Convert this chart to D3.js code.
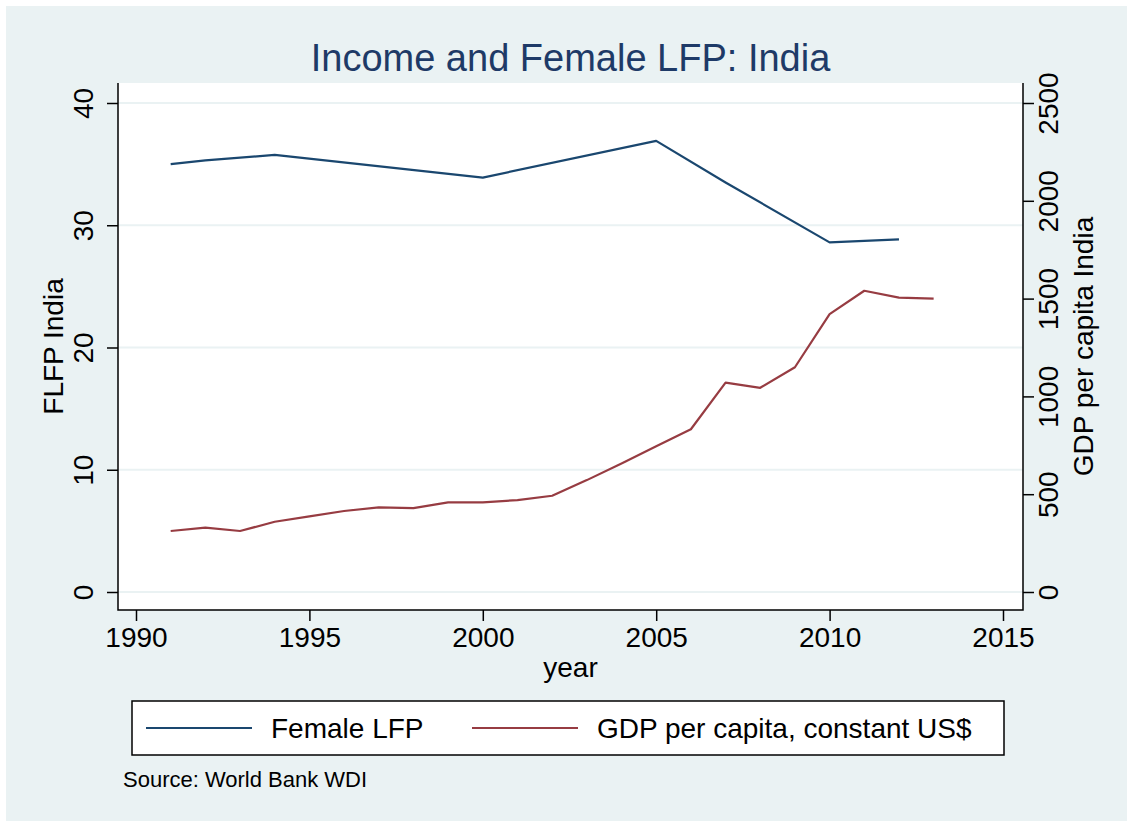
<!DOCTYPE html>
<html>
<head>
<meta charset="utf-8">
<script src="https://cdn.jsdelivr.net/npm/d3@7"></script>
<style>
  body { margin: 0; background: #fff; }
  svg { display: block; font-family: "Liberation Sans", Arial, Helvetica, sans-serif; }
</style>
</head>
<body>
<div id="chart"></div>
<script>
// data
var flfpYears = [1991, 1992, 1994, 2000, 2005, 2007, 2010, 2012];
var flfpValues = [35.0, 35.3, 35.75, 33.9, 36.9, 33.5, 28.6, 28.85];

var gdpYears = [1991, 1992, 1993, 1994, 1995, 1996, 1997, 1998, 1999, 2000, 2001, 2002,
                2003, 2004, 2005, 2006, 2007, 2008, 2009, 2010, 2011, 2012, 2013];
var gdpValues = [312, 329, 312, 359, 387, 414, 433, 429, 458, 458, 470, 492,
                 572, 657, 745, 832, 1070, 1044, 1149, 1421, 1540, 1505, 1500];

var xTicks = [1990, 1995, 2000, 2005, 2010, 2015];
var leftTicks = [0, 10, 20, 30, 40];
var rightTicks = [0, 500, 1000, 1500, 2000, 2500];

var legendLabels = ["Female LFP", "GDP per capita, constant US$"];

var W = 1127, H = 821;
var plot = { left: 118, right: 1023, top: 83, bottom: 610 };
var navy = "#1a476f", maroon = "#973c42", bg = "#eaf2f3";

var svg = d3.select("#chart").append("svg")
    .attr("width", W)
    .attr("height", H);

svg.append("rect")
    .attr("x", 6).attr("y", 6)
    .attr("width", W - 6).attr("height", H - 6)
    .attr("fill", bg);

svg.append("rect")
    .attr("x", plot.left).attr("y", plot.top)
    .attr("width", plot.right - plot.left)
    .attr("height", plot.bottom - plot.top)
    .attr("fill", "#fff");

var x = d3.scaleLinear().domain([1990, 2015]).range([136, 1003]);
var yL = d3.scaleLinear().domain([0, 40]).range([592, 103]);
var yR = d3.scaleLinear().domain([0, 2500]).range([592, 103]);

// gridlines
svg.append("g")
    .selectAll("line")
    .data(leftTicks)
    .enter().append("line")
    .attr("x1", plot.left)
    .attr("x2", plot.right)
    .attr("y1", function(d) { return yL(d); })
    .attr("y2", function(d) { return yL(d); })
    .attr("stroke", bg)
    .attr("stroke-width", 2);

// title
svg.append("text")
    .attr("x", (plot.left + plot.right) / 2)
    .attr("y", 71)
    .attr("text-anchor", "middle")
    .style("font-size", "38px")
    .attr("fill", "#1e3a67")
    .text("Income and Female LFP: India");

// lines
var flfp = flfpYears.map(function(d, i) { return [d, flfpValues[i]]; });
var gdp = gdpYears.map(function(d, i) { return [d, gdpValues[i]]; });

svg.append("path")
    .datum(flfp)
    .attr("fill", "none")
    .attr("stroke", navy)
    .attr("stroke-width", 2.2)
    .attr("stroke-linejoin", "round")
    .attr("d", d3.line()
        .x(function(d) { return x(d[0]); })
        .y(function(d) { return yL(d[1]); }));

svg.append("path")
    .datum(gdp)
    .attr("fill", "none")
    .attr("stroke", maroon)
    .attr("stroke-width", 2.2)
    .attr("stroke-linejoin", "round")
    .attr("d", d3.line()
        .x(function(d) { return x(d[0]); })
        .y(function(d) { return yR(d[1]); }));

// axes
function styleAxis(g) {
    g.select(".domain").remove();
    g.selectAll(".tick line").attr("stroke", "#000").attr("stroke-width", 1.5);
    g.selectAll(".tick text").style("font-size", "28px").attr("fill", "#000");
}

svg.append("g")
    .attr("transform", "translate(0," + plot.bottom + ")")
    .call(d3.axisBottom(x).tickValues(xTicks).tickSize(11).tickFormat(d3.format("d")))
    .call(styleAxis)
    .call(function(g) {
        g.selectAll(".tick text").attr("y", 37).attr("dy", 0);
    });

svg.append("g")
    .attr("transform", "translate(" + plot.left + ",0)")
    .call(d3.axisLeft(yL).tickValues(leftTicks).tickSize(11).tickFormat(d3.format("d")))
    .call(styleAxis)
    .call(function(g) {
        g.selectAll(".tick text")
            .attr("x", null).attr("dy", null)
            .attr("text-anchor", "middle")
            .attr("transform", "translate(-25,0) rotate(-90)");
    });

svg.append("g")
    .attr("transform", "translate(" + plot.right + ",0)")
    .call(d3.axisRight(yR).tickValues(rightTicks).tickSize(11).tickFormat(d3.format("d")))
    .call(styleAxis)
    .call(function(g) {
        g.selectAll(".tick text")
            .attr("x", null).attr("dy", null)
            .attr("text-anchor", "middle")
            .attr("transform", "translate(35,0) rotate(-90)");
    });

// axis lines
svg.append("path")
    .attr("d", "M" + plot.left + "," + plot.top + "V" + plot.bottom + "H" + plot.right + "V" + plot.top)
    .attr("fill", "none")
    .attr("stroke", "#000")
    .attr("stroke-width", 1.5);

// axis titles
svg.append("text")
    .attr("transform", "translate(63," + (plot.top + plot.bottom) / 2 + ") rotate(-90)")
    .attr("text-anchor", "middle")
    .style("font-size", "28px")
    .text("FLFP India");

svg.append("text")
    .attr("transform", "translate(1093," + (plot.top + plot.bottom) / 2 + ") rotate(-90)")
    .attr("text-anchor", "middle")
    .style("font-size", "28px")
    .text("GDP per capita India");

svg.append("text")
    .attr("x", (plot.left + plot.right) / 2)
    .attr("y", 677)
    .attr("text-anchor", "middle")
    .style("font-size", "28px")
    .text("year");

// legend
var legend = svg.append("g");
legend.append("rect")
    .attr("x", 132).attr("y", 701)
    .attr("width", 872).attr("height", 54)
    .attr("fill", "#fff")
    .attr("stroke", "#000")
    .attr("stroke-width", 1.5);

var legendItems = [
    { label: legendLabels[0], color: navy, x0: 146, tx: 271 },
    { label: legendLabels[1], color: maroon, x0: 472, tx: 597 }
];

legendItems.forEach(function(d) {
    legend.append("line")
        .attr("x1", d.x0).attr("x2", d.x0 + 106)
        .attr("y1", 728).attr("y2", 728)
        .attr("stroke", d.color)
        .attr("stroke-width", 2.2);
    legend.append("text")
        .attr("x", d.tx).attr("y", 738)
        .style("font-size", "28px")
        .text(d.label);
});

svg.append("text")
    .attr("x", 123).attr("y", 787)
    .style("font-size", "22px")
    .text("Source: World Bank WDI");
</script>
</body>
</html>
